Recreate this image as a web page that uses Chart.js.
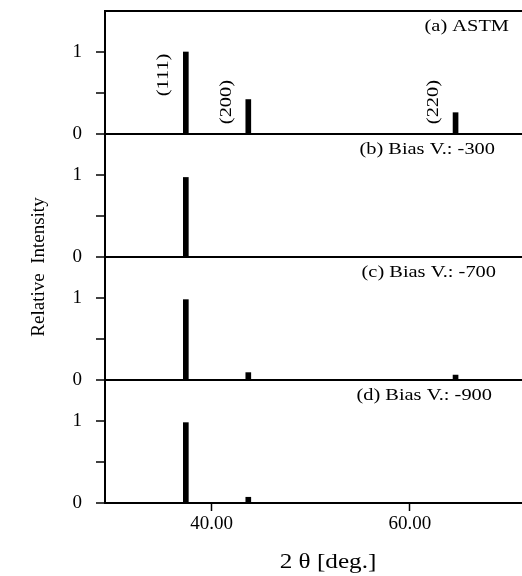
<!DOCTYPE html>
<html>
<head>
<meta charset="utf-8">
<script src="https://cdn.jsdelivr.net/npm/chart.js@4.4.1/dist/chart.umd.min.js"></script>
<style>
  body { margin: 0; background: #fff; }
  canvas { display: block; }
</style>
</head>
<body>
<canvas id="xrdChart" width="522" height="576"></canvas>
<script>
// Peak positions (2 theta, deg.) and their planes
const thetaPeaks = [37.4, 43.7, 64.6];
const hklLabels = ['(111)', '(200)', '(220)'];

// Relative intensity of each peak, one array per panel
const astmIntensity = [1.0, 0.42, 0.26];
const bias300Intensity = [0.97, 0, 0];
const bias700Intensity = [0.98, 0.09, 0.06];
const bias900Intensity = [0.98, 0.07, 0];

const panelLabels = ['(a) ASTM', '(b) Bias V.: -300', '(c) Bias V.: -700', '(d) Bias V.: -900'];
const xTicks = [40, 60];
const yTicks = [0, 0.5, 1];

const serif = "'Liberation Serif', 'Times New Roman', serif";
const panelData = [astmIntensity, bias300Intensity, bias700Intensity, bias900Intensity];
const axisIds = ['yA', 'yB', 'yC', 'yD'];
const yMax = 1.5;

// Build one bar dataset per panel
const datasets = panelData.map((values, i) => ({
    data: thetaPeaks.map((x, j) => ({ x: x, y: values[j] })).filter(p => p.y > 0),
    yAxisID: axisIds[i],
    backgroundColor: '#000',
    barThickness: 5,
    grouped: false
}));

function panelAxis() {
    return {
        type: 'linear',
        position: 'left',
        stack: 'panels',
        stackWeight: 1,
        min: 0,
        max: yMax,
        afterBuildTicks: axis => { axis.ticks = yTicks.map(v => ({ value: v })); },
        afterFit: axis => {
            axis.width = 105;
            axis.paddingTop = 0;
            axis.paddingBottom = 0;
        },
        border: { display: true, color: '#000', width: 2 },
        grid: {
            drawOnChartArea: true,
            color: ctx => ctx.tick && ctx.tick.value === 0 ? '#000' : 'rgba(0,0,0,0)',
            lineWidth: 2,
            tickColor: '#000',
            tickLength: 9,
            tickWidth: 1.5
        },
        ticks: {
            color: '#000',
            padding: 14,
            font: { family: serif, size: 19 },
            callback: v => (v === 0 || v === 1) ? String(v) : ''
        }
    };
}

const scales = {
    x: {
        type: 'linear',
        position: 'bottom',
        min: 29.25,
        max: 71.3,
        offset: false,
        afterBuildTicks: axis => { axis.ticks = xTicks.map(v => ({ value: v })); },
        afterFit: axis => { axis.height = 73; },
        border: { display: true, color: '#000', width: 2 },
        grid: { drawOnChartArea: false, offset: false, color: '#000', tickLength: 8, tickWidth: 1.5 },
        ticks: {
            color: '#000',
            padding: 2,
            font: { family: serif, size: 19 },
            callback: v => Number(v).toFixed(2)
        }
    }
};
// stacked axes are laid out bottom-up, so add the lowest panel first
axisIds.slice().reverse().forEach(id => { scales[id] = panelAxis(); });

// Texts that are not part of the axes: titles, panel captions, plane labels
const panelLabelInset = [13, 27, 26, 30];
const hklLabelBase = [0.46, 0.12, 0.12];

function wideText(ctx, text, x, y, sx, angle) {
    ctx.save();
    ctx.translate(x, y);
    if (angle) ctx.rotate(angle);
    ctx.scale(sx, 1);
    ctx.fillText(text, 0, 0);
    ctx.restore();
}

const framePlugin = {
    id: 'xrdFrame',
    afterDraw(chart) {
        const ctx = chart.ctx;
        const area = chart.chartArea;
        const ya = chart.scales.yA;
        ctx.save();

        // top edge of the frame
        ctx.strokeStyle = '#000';
        ctx.lineWidth = 2;
        ctx.beginPath();
        ctx.moveTo(area.left - 1, ya.top);
        ctx.lineTo(area.right, ya.top);
        ctx.stroke();

        ctx.fillStyle = '#000';

        // panel captions
        ctx.font = '17px ' + serif;
        ctx.textAlign = 'right';
        ctx.textBaseline = 'middle';
        axisIds.forEach((id, i) => {
            const s = chart.scales[id];
            wideText(ctx, panelLabels[i], area.right - panelLabelInset[i], s.top + 16, 1.2);
        });

        // plane labels beside the ASTM peaks
        const xs = chart.scales.x;
        ctx.textAlign = 'left';
        thetaPeaks.forEach((t, i) => {
            wideText(ctx, hklLabels[i], xs.getPixelForValue(t) - 22, ya.getPixelForValue(hklLabelBase[i]), 1.2, -Math.PI / 2);
        });

        // y title
        ctx.font = '19px ' + serif;
        ctx.textAlign = 'center';
        wideText(ctx, 'Relative  Intensity', 39, 267, 1, -Math.PI / 2);

        // x title
        ctx.font = '21px ' + serif;
        wideText(ctx, '2 \u03b8 [deg.]', 328, 562, 1.2);
        ctx.restore();
    }
};

new Chart(document.getElementById('xrdChart'), {
    type: 'bar',
    data: { datasets: datasets },
    options: {
        responsive: false,
        animation: false,
        layout: { padding: { top: 11, right: 0, left: 0, bottom: 0 } },
        plugins: { legend: { display: false }, tooltip: { enabled: false } },
        scales: scales
    },
    plugins: [framePlugin]
});
</script>
</body>
</html>
